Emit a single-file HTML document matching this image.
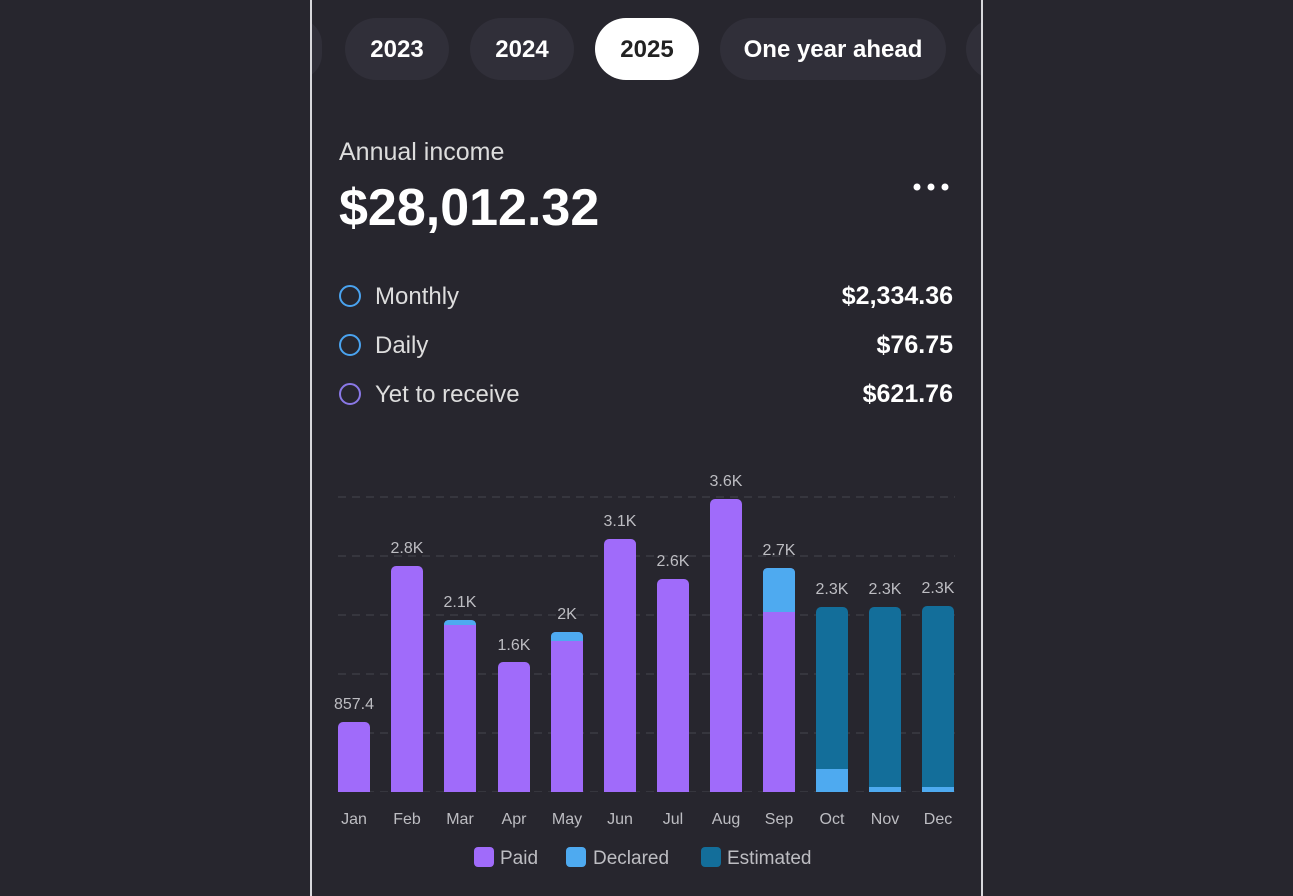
<!DOCTYPE html>
<html><head><meta charset="utf-8"><style>
body{margin:0;width:1293px;height:896px;background:#27262e;font-family:"Liberation Sans",sans-serif;overflow:hidden;position:relative}
.vl{position:absolute;top:0;width:2px;height:896px;background:#d8d8dc;z-index:2}
.clip{position:absolute;left:312px;top:0;width:669px;height:100px;overflow:hidden}
.chip{position:absolute;top:18px;height:62px;border-radius:31px;background:#302f39;color:#fff;font-size:24px;font-weight:bold;line-height:64px;text-align:center}
.t{position:absolute;color:#fff}
.ring{position:absolute;left:339px;width:18px;height:18px;border:2.5px solid #4aa3ef;border-radius:50%}
</style></head><body>
<div class="vl" style="left:310px"></div><div class="vl" style="left:981px"></div>
<div class="clip">
<div class="chip" style="left:-42px;width:52px"></div>
<div class="chip" style="left:33px;width:104px">2023</div>
<div class="chip" style="left:158px;width:104px">2024</div>
<div class="chip" style="left:283px;width:104px;background:#fff;color:#222">2025</div>
<div class="chip" style="left:408px;width:226px">One year ahead</div>
<div class="chip" style="left:654px;width:80px"></div>
</div>
<div class="t" style="left:339px;top:138px;font-size:25px;color:#ddd">Annual income</div>
<div class="t" style="left:339px;top:178px;font-size:52px;font-weight:bold">$28,012.32</div>
<svg style="position:absolute;left:912px;top:180px" width="40" height="14"><circle cx="5" cy="7" r="3.5" fill="#fff"/><circle cx="19" cy="7" r="3.5" fill="#fff"/><circle cx="33" cy="7" r="3.5" fill="#fff"/></svg>
<div class="ring" style="top:285px"></div><div class="t" style="left:375px;top:283px;font-size:24px;color:#ddd">Monthly</div><div class="t" style="right:340px;top:282px;font-size:25px;font-weight:bold">$2,334.36</div>
<div class="ring" style="top:334px"></div><div class="t" style="left:375px;top:332px;font-size:24px;color:#ddd">Daily</div><div class="t" style="right:340px;top:331px;font-size:25px;font-weight:bold">$76.75</div>
<div class="ring" style="top:383px;border-color:#8a78e6"></div><div class="t" style="left:375px;top:381px;font-size:24px;color:#ddd">Yet to receive</div><div class="t" style="right:340px;top:380px;font-size:25px;font-weight:bold">$621.76</div>
<svg style="position:absolute;left:0;top:0" width="1293" height="896">
<g stroke="#46454d" stroke-width="1" stroke-dasharray="8,6">
<line x1="338" x2="955" y1="497" y2="497"/><line x1="338" x2="955" y1="556" y2="556"/><line x1="338" x2="955" y1="615" y2="615"/><line x1="338" x2="955" y1="674" y2="674"/><line x1="338" x2="955" y1="733" y2="733"/><line x1="338" x2="955" y1="792" y2="792"/></g>
<g fill="#a06bfa">
<rect x="338" y="722" width="32" height="75" rx="5"/>
<rect x="391" y="566" width="32" height="231" rx="5"/>
<rect x="444" y="620" width="32" height="177" rx="5"/>
<rect x="498" y="662" width="32" height="135" rx="5"/>
<rect x="551" y="632" width="32" height="165" rx="5"/>
<rect x="604" y="539" width="32" height="258" rx="5"/>
<rect x="657" y="579" width="32" height="218" rx="5"/>
<rect x="710" y="499" width="32" height="298" rx="5"/>
<rect x="763" y="568" width="32" height="229" rx="5"/></g>
<g fill="#136e9a"><rect x="816" y="607" width="32" height="190" rx="5"/><rect x="869" y="607" width="32" height="190" rx="5"/><rect x="922" y="606" width="32" height="191" rx="5"/></g>
<g fill="#4eaaf0">
<path d="M444 625 V625 Q444 620 449 620 H471 Q476 620 476 625Z"/>
<path d="M551 641 V637 Q551 632 556 632 H578 Q583 632 583 637 V641Z"/>
<path d="M763 612 V573 Q763 568 768 568 H790 Q795 568 795 573 V612Z"/>
<rect x="816" y="769" width="32" height="23"/><rect x="869" y="787" width="32" height="5"/><rect x="922" y="787" width="32" height="5"/></g>
<rect x="330" y="792" width="630" height="10" fill="#27262e"/>
<g fill="#bdbdc2" font-size="16" text-anchor="middle" font-family="Liberation Sans">
<text x="354" y="709">857.4</text><text x="407" y="553">2.8K</text><text x="460" y="607">2.1K</text><text x="514" y="650">1.6K</text><text x="567" y="619">2K</text><text x="620" y="526">3.1K</text><text x="673" y="566">2.6K</text><text x="726" y="486">3.6K</text><text x="779" y="555">2.7K</text><text x="832" y="594">2.3K</text><text x="885" y="594">2.3K</text><text x="938" y="593">2.3K</text>
<text x="354" y="824">Jan</text><text x="407" y="824">Feb</text><text x="460" y="824">Mar</text><text x="514" y="824">Apr</text><text x="567" y="824">May</text><text x="620" y="824">Jun</text><text x="673" y="824">Jul</text><text x="726" y="824">Aug</text><text x="779" y="824">Sep</text><text x="832" y="824">Oct</text><text x="885" y="824">Nov</text><text x="938" y="824">Dec</text></g>
<rect x="474" y="847" width="20" height="20" rx="4" fill="#a06bfa"/><rect x="566" y="847" width="20" height="20" rx="4" fill="#4eaaf0"/><rect x="701" y="847" width="20" height="20" rx="4" fill="#136e9a"/>
<g fill="#bdbdc2" font-size="19" font-family="Liberation Sans"><text x="500" y="864">Paid</text><text x="593" y="864">Declared</text><text x="727" y="864">Estimated</text></g>
</svg>
</body></html>
